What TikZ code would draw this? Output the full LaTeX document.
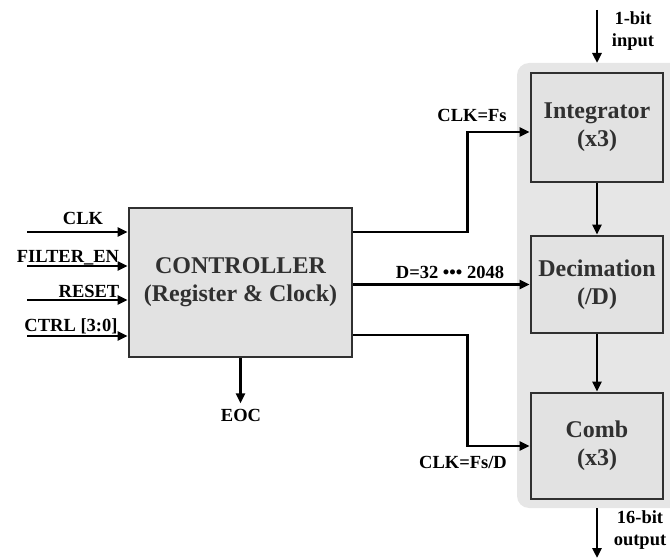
\documentclass[tikz,border=0pt]{standalone}
\usepackage{fontspec}
\setmainfont{Liberation Serif}
\usetikzlibrary{arrows.meta,positioning}
\definecolor{boxgray}{HTML}{E2E2E2}
\definecolor{bggray}{HTML}{E6E6E6}
\definecolor{edgegray}{HTML}{303030}

\begin{document}
\begin{tikzpicture}[x=1pt,y=-1pt,
      blk/.style={draw=edgegray, fill=boxgray, line width=2.8pt,
                  inner sep=0pt, align=center, text=edgegray,
                  font=\fontsize{24}{28}\selectfont\bfseries},
      lbl/.style={inner sep=0pt, align=center,
                  font=\fontsize{18.5}{22}\selectfont\bfseries},
      arr/.style={-{Triangle[length=10pt,width=9pt]}, line width=2.6pt}
  ]
    \useasboundingbox (0,0) rectangle (670,559);
    % shaded filter area
    \fill[bggray, rounded corners=12pt] (675,63) -- (517,63) -- (517,508) -- (675,508);

    \node[blk, minimum width=223pt, minimum height=149pt] (ctrl) at (240.5,282.5)
      {CONTROLLER\\(Register \& Clock)};
    \node[blk, minimum width=132pt, minimum height=109pt] (integ) at (597,127.5) {Integrator\\(x3)};
    \node[blk, minimum width=132pt, minimum height=97pt]  (decim) at (597,284.5) {Decimation\\(/D)};
    \node[blk, minimum width=132pt, minimum height=106pt] (comb)  at (597,446)   {Comb\\(x3)};

    \draw[arr] (integ)--(decim);
    \draw[arr] (decim)--(comb);

    % controller inputs
    \coordinate (clkin)  at (27,232);
    \coordinate (enin)   at (27,266);
    \coordinate (rstin)  at (27,300);
    \coordinate (ctrlin) at (27,336);
    \draw[arr] (clkin)--(clkin -| ctrl.west);
    \draw[arr] (enin)--(enin -| ctrl.west);
    \draw[arr] (rstin)--(rstin -| ctrl.west);
    \draw[arr] (ctrlin)--(ctrlin -| ctrl.west);
    \node[lbl, anchor=base] (clklbl)  at (83,225) {CLK};
    \node[lbl, anchor=base] (enlbl)   at (68,262) {FILTER\_EN};
    \node[lbl, anchor=base] (rstlbl)  at (89,298) {RESET};
    \node[lbl, anchor=base] (ctrllbl) at (71,331) {CTRL [3:0]};

    % controller outputs
    \draw[arr] ([yshift=50.5pt]ctrl.east) -- ++(114,0) |- ([yshift=-4.5pt]integ.west);
    \draw[arr] (ctrl.east |- decim.west) -- (decim.west);
    \draw[arr] ([yshift=-52.5pt]ctrl.east) -- ++(114,0) |- (comb.west);
    \node[lbl, anchor=base] (fslbl)  at (472,122) {CLK=Fs};
    \node[lbl, anchor=base] (dlbl)   at (450,278) {D=32 ••• 2048};
    \node[lbl, anchor=base] (fsdlbl) at (463,468) {CLK=Fs/D};

    \draw[arr] (ctrl.south) -- ++(0,45) coordinate (eocend);
    \node[lbl, anchor=base] (eoclbl) at (241,421) {EOC};

    % data in and out
    \coordinate (bitin)  at (597,10);
    \coordinate (bgtop)  at (597,63);
    \coordinate (bgbot)  at (597,508);
    \coordinate (bitout) at (597,558);
    \draw[arr] (bitin)--(bgtop);
    \draw[arr] (bgbot)--(bitout);
    \node[lbl] (inlbl)  at (633,31)  {1-bit\\input};
    \node[lbl] (outlbl) at (640,530) {16-bit\\output};
  \end{tikzpicture}
\end{document}
